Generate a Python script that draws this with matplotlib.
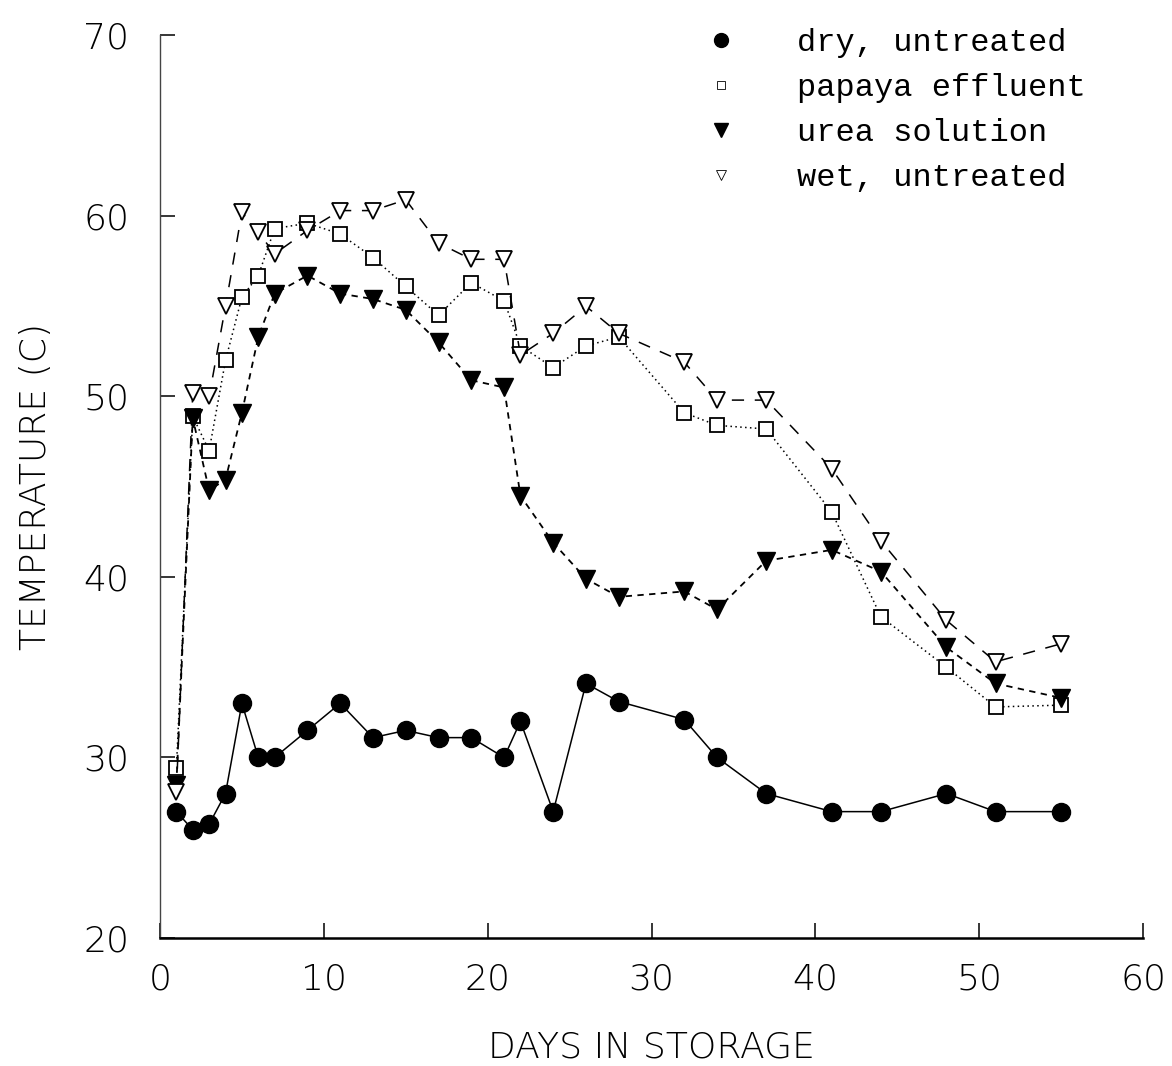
"""Silage temperature during storage, four treatments."""
import matplotlib
matplotlib.use("Agg")
import matplotlib.pyplot as plt
from matplotlib.lines import Line2D

days = [1, 2, 3, 4, 5, 6, 7, 9, 11, 13, 15, 17, 19, 21, 22, 24, 26, 28,
        32, 34, 37, 41, 44, 48, 51, 55]

dry_untreated = [27.0, 26.0, 26.3, 28.0, 33.0, 30.0, 30.0, 31.5, 33.0, 31.1,
                 31.5, 31.1, 31.1, 30.0, 32.0, 27.0, 34.1, 33.1, 32.1, 30.0,
                 28.0, 27.0, 27.0, 28.0, 27.0, 27.0]
papaya_effluent = [29.4, 48.9, 47.0, 52.0, 55.5, 56.7, 59.3, 59.6, 59.0, 57.7,
                   56.1, 54.5, 56.3, 55.3, 52.8, 51.6, 52.8, 53.3, 49.1, 48.4,
                   48.2, 43.6, 37.8, 35.0, 32.8, 32.9]
urea_solution = [28.5, 48.8, 44.8, 45.4, 49.1, 53.3, 55.7, 56.7, 55.7, 55.4,
                 54.8, 53.0, 50.9, 50.5, 44.5, 41.9, 39.9, 38.9, 39.2, 38.2,
                 40.9, 41.5, 40.3, 36.1, 34.1, 33.3]
wet_untreated = [28.1, 50.2, 50.0, 55.0, 60.2, 59.1, 57.9, 59.2, 60.3, 60.3,
                 60.9, 58.5, 57.6, 57.6, 52.3, 53.5, 55.0, 53.5, 51.9, 49.8,
                 49.8, 46.0, 42.0, 37.6, 35.3, 36.3]

labels = ["dry, untreated", "papaya effluent", "urea solution", "wet, untreated"]

x_ticks = [0, 10, 20, 30, 40, 50, 60]
y_ticks = [20, 30, 40, 50, 60, 70]

TICK_FONT = dict(family="DejaVu Sans", weight=200, size=26)


def main() -> None:
    fig = plt.figure(figsize=(11.72, 10.66), dpi=100)
    ax = fig.add_axes([0.1365, 0.1201, 0.8388, 0.8466])

    ax.plot(days, dry_untreated, color="black", lw=1.1, ls="-",
            marker="o", ms=13, mfc="black", mec="black")
    ax.plot(days, papaya_effluent, color="black", lw=1.1, ls=(0, (1, 2.2)),
            marker="s", ms=9.5, mfc="white", mec="black", mew=1.3)
    ax.plot(days, urea_solution, color="black", lw=1.3, ls=(0, (3.5, 3)),
            marker="v", ms=12.5, mfc="black", mec="black")
    ax.plot(days, wet_untreated, color="black", lw=1.1, ls=(0, (8, 7)),
            marker="v", ms=11, mfc="white", mec="black", mew=1.3)

    ax.set_xlim(0, 60)
    ax.set_ylim(20, 70)
    ax.set_xticks(x_ticks)
    ax.set_yticks(y_ticks)
    ax.set_xticklabels([str(v) for v in x_ticks], fontdict=TICK_FONT)
    ax.set_yticklabels([str(v) for v in y_ticks], fontdict=TICK_FONT)
    ax.tick_params(axis="both", direction="in", length=11, width=1.1,
                   color="black")
    ax.tick_params(axis="x", pad=18)
    ax.tick_params(axis="y", pad=22)

    ax.spines["top"].set_visible(False)
    ax.spines["right"].set_visible(False)
    ax.spines["left"].set_linewidth(1.0)
    ax.spines["left"].set_color("#444444")
    ax.spines["bottom"].set_linewidth(1.8)

    ax.set_xlabel("DAYS IN STORAGE", fontdict=TICK_FONT, labelpad=24)
    ax.set_ylabel("TEMPERATURE (C)", fontdict=TICK_FONT, labelpad=22)

    handles = [
        Line2D([], [], ls="none", marker="o", ms=10, mfc="black", mec="black"),
        Line2D([], [], ls="none", marker="s", ms=6, mfc="white", mec="black",
               mew=0.6),
        Line2D([], [], ls="none", marker="v", ms=10, mfc="black", mec="black"),
        Line2D([], [], ls="none", marker="v", ms=7, mfc="white", mec="black",
               mew=0.6),
    ]
    ax.legend(handles, labels, loc="upper right", frameon=False,
              prop=dict(family="Liberation Mono", size=23),
              handlelength=1.0, handletextpad=1.9, labelspacing=0.47,
              borderaxespad=0.0, bbox_to_anchor=(0.955, 1.022))

    fig.savefig("out.png", dpi=100)
    plt.close(fig)


if __name__ == "__main__":
    main()
